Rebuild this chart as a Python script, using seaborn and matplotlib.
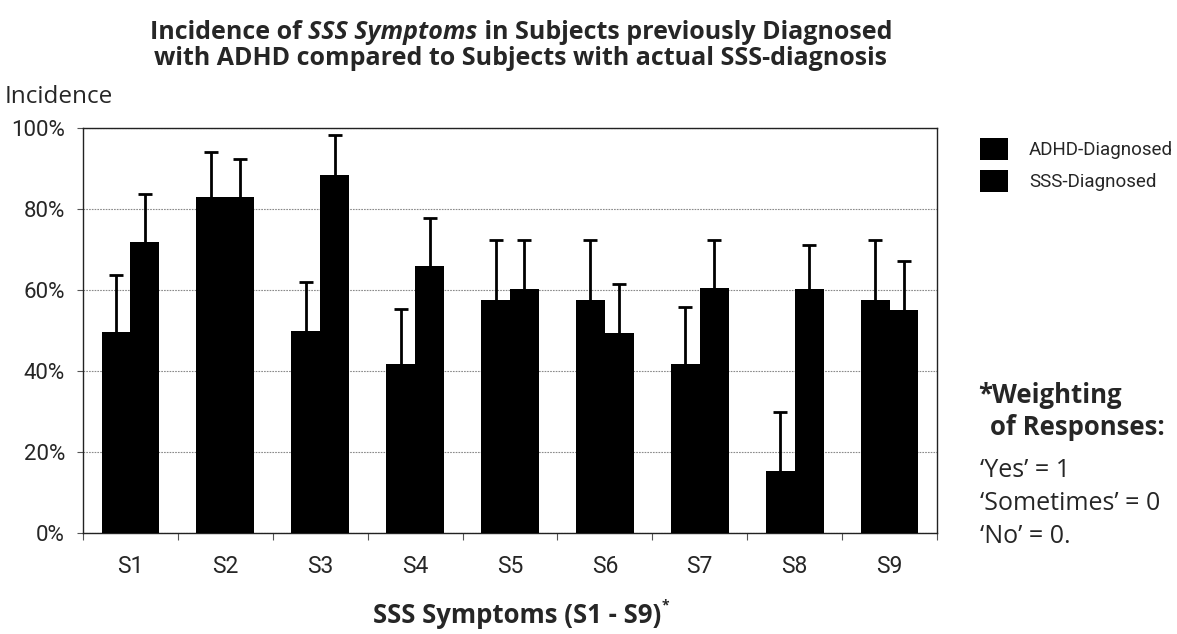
import matplotlib
matplotlib.use("Agg")
import matplotlib.pyplot as plt
import seaborn as sns
import pandas as pd
import numpy as np

categories = ["S1", "S2", "S3", "S4", "S5", "S6", "S7", "S8", "S9"]
adhd = [49.7, 82.9, 49.8, 41.8, 57.6, 57.5, 41.7, 15.3, 57.5]
adhd_top = [63.6, 94.0, 62.0, 55.4, 72.4, 72.3, 55.8, 29.8, 72.4]
sss = [71.8, 82.9, 88.5, 66.0, 60.2, 49.5, 60.4, 60.3, 55.1]
sss_top = [83.6, 92.3, 98.2, 77.7, 72.3, 61.4, 72.3, 71.2, 67.2]
groups = ["ADHD-Diagnosed", "SSS-Diagnosed"]
ytick_vals = [0, 20, 40, 60, 80, 100]

sns.set_theme(style="white")
plt.rcParams['font.family'] = ["Open Sans", "DejaVu Sans"]
narrow = ["Roboto", "DejaVu Sans"]

df = pd.DataFrame({
    "symptom": categories * 2,
    "value": adhd + sss,
    "group": [groups[0]] * len(categories) + [groups[1]] * len(categories),
})

fig = plt.figure(figsize=(11.77, 6.34), dpi=100)
ax = fig.add_axes([83 / 1177, 1 - 533 / 634, (937 - 83) / 1177, (533 - 128) / 634])
sns.barplot(data=df, x="symptom", y="value", hue="group", palette=["black", "black"],
            width=0.61, errorbar=None, ax=ax, saturation=1, linewidth=0, zorder=3)

# one-sided error bars (only upward); hide the lower cap
for bar, val, top in zip(ax.patches[:2 * len(categories)], adhd + sss, adhd_top + sss_top):
    xc = bar.get_x() + bar.get_width() / 2
    eb = ax.errorbar(xc, val, yerr=[[0], [top - val]], fmt="none", ecolor="black",
                     elinewidth=2, capsize=5, capthick=2, zorder=2)
    eb.lines[1][0].set_visible(False)

ax.set_ylim(0, 100)
ax.set_xlim(-0.5, len(categories) - 0.5)
ax.set_yticks(ytick_vals)
ax.set_yticklabels([f"{v}%" for v in ytick_vals], family=narrow, fontsize=16)
ax.set_xticks(range(len(categories)))
ax.set_xticklabels(categories, family=narrow, fontsize=16.5)
ax.set_xticks(np.arange(-0.5, len(categories), 1), minor=True)
ax.tick_params(axis="x", which="major", length=0, pad=16)
ax.tick_params(axis="x", which="minor", length=5, width=0.8, color="#555555", direction="out", bottom=True)
ax.tick_params(axis="y", length=4, width=0.8, color="#555555", direction="out", left=True, pad=9)
ax.yaxis.grid(True, color="#8a8a8a", linestyle=(0, (1.5, 1)), linewidth=0.8, zorder=1)
ax.set_axisbelow(True)
for s in ax.spines.values():
    s.set_visible(True)
    s.set_color("#222222")
    s.set_linewidth(1.0)
ax.set_xlabel("")
ax.set_ylabel("")

# legend outside on the right
handles, labels = ax.get_legend_handles_labels()
ax.legend(handles, labels, loc="upper left", bbox_to_anchor=(980 / 1177, 1 - 138 / 634),
          bbox_transform=fig.transFigure, frameon=False, borderpad=0, borderaxespad=0,
          prop={"family": narrow, "size": 13.5}, handlelength=1.5, handleheight=1.45,
          handletextpad=1.1, labelspacing=0.5)

# title, with the italic part
t1 = fig.text(150 / 1177, 1 - 39 / 634, "Incidence of ", fontsize=18, fontweight="bold")
t2 = ax.annotate("SSS Symptoms", xy=(1, 0), xycoords=t1, va="bottom", fontsize=18,
                 fontweight="bold", fontstyle="italic", annotation_clip=False)
t3 = ax.annotate(" in Subjects previously Diagnosed", xy=(1, 0), xycoords=t2, va="bottom",
                 fontsize=18, fontweight="bold", annotation_clip=False)
fig.text(521 / 1177, 1 - 65 / 634, "with ADHD compared to Subjects with actual SSS-diagnosis",
         ha="center", fontsize=18, fontweight="bold")

fig.text(5 / 1177, 1 - 103 / 634, "Incidence", fontsize=17.5)

xl = fig.text(517 / 1177, 1 - 623 / 634, "SSS Symptoms (S1 - S9)", ha="center", fontsize=18.5,
              fontweight="bold")
ax.annotate("*", xy=(1, 0.6), xycoords=xl, va="bottom", fontsize=10, fontweight="bold",
            annotation_clip=False)

# weighting note
fig.text(978 / 1177, 1 - 403 / 634, "*Weighting", fontsize=18.5, fontweight="bold")
fig.text(990 / 1177, 1 - 435 / 634, "of Responses:", fontsize=18.5, fontweight="bold")
fig.text(980 / 1177, 1 - 477 / 634, "\u2018Yes\u2019 = 1", fontsize=18)
fig.text(980 / 1177, 1 - 510 / 634, "\u2018Sometimes\u2019 = 0", fontsize=18)
fig.text(980 / 1177, 1 - 543 / 634, "\u2018No\u2019 = 0.", fontsize=18)

fig.savefig("out.png", dpi=100)
